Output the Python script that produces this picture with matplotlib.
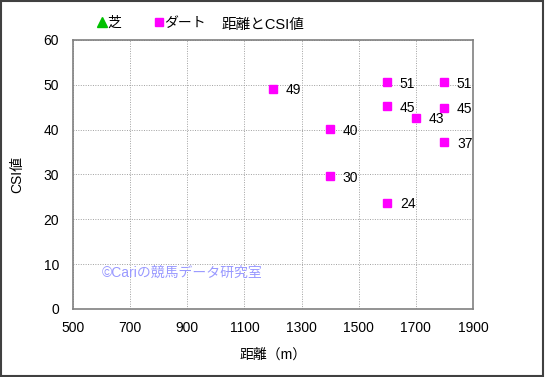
import numpy as np
import matplotlib
matplotlib.use("Agg")
import matplotlib.pyplot as plt
from matplotlib.patches import Rectangle

plt.rcParams['font.family'] = ['Liberation Sans', 'Noto Sans CJK JP', 'DejaVu Sans']

# 芝 (no points in this chart)
turf_x = []
turf_y = []
# ダート
dirt_x = [1200, 1400, 1400, 1600, 1600, 1600, 1700, 1800, 1800, 1800]
dirt_y = [49.1, 40.1, 29.6, 50.6, 45.2, 23.7, 42.6, 50.6, 44.9, 37.2]

x_ticks = [500, 700, 900, 1100, 1300, 1500, 1700, 1900]
y_ticks = [0, 10, 20, 30, 40, 50, 60]

fig = plt.figure(figsize=(5.45, 3.77), dpi=100)
ax = fig.add_axes([73/545, 1-309/377, 400/545, 269/377])

ax.plot(turf_x, turf_y, '^', color='#00c000', ms=7, label='芝')
ax.plot(dirt_x, dirt_y, 's', color='#ff00ff', ms=6, label='ダート')

for x, y in zip(dirt_x, dirt_y):
    ax.annotate(str(int(round(y))), (x, y), xytext=(9, -1), textcoords='offset points',
                ha='left', va='center', fontsize=10)

ax.set_xlim(500, 1900)
ax.set_ylim(0, 60)
ax.set_xticks(x_ticks)
ax.set_yticks(y_ticks)
ax.tick_params(axis='x', labelsize=10, length=0, pad=9)
ax.tick_params(axis='y', labelsize=10, length=0, pad=10)
ax.grid(True, linestyle=(0, (1, 1.5)), color='#a0a0a0', linewidth=0.7)
for s in ax.spines.values():
    s.set_color('#808080')
    s.set_linewidth(1.2)

ax.set_xlabel('距離（m）', fontsize=10, labelpad=9)
ax.set_ylabel('CSI値', fontsize=10, labelpad=14)

fig.text(263/545, 1-25/377, '距離とCSI値', ha='center', va='center', fontsize=10.5)
ax.legend(loc='lower left', bbox_to_anchor=(98/545, 1-30/377), bbox_transform=fig.transFigure,
          ncol=2, frameon=False, fontsize=10, handlelength=0.6, handletextpad=0.1,
          columnspacing=2.4, borderaxespad=0, borderpad=0)

ax.text(600, 8, '©Cariの競馬データ研究室', fontsize=10,
        color='#9999ff', va='center', ha='left')

fig.patches.append(Rectangle((0.002, 0.003), 0.995, 0.994, transform=fig.transFigure,
                             fill=False, edgecolor='#404040', linewidth=1.5))

fig.savefig('out.png', dpi=100)
